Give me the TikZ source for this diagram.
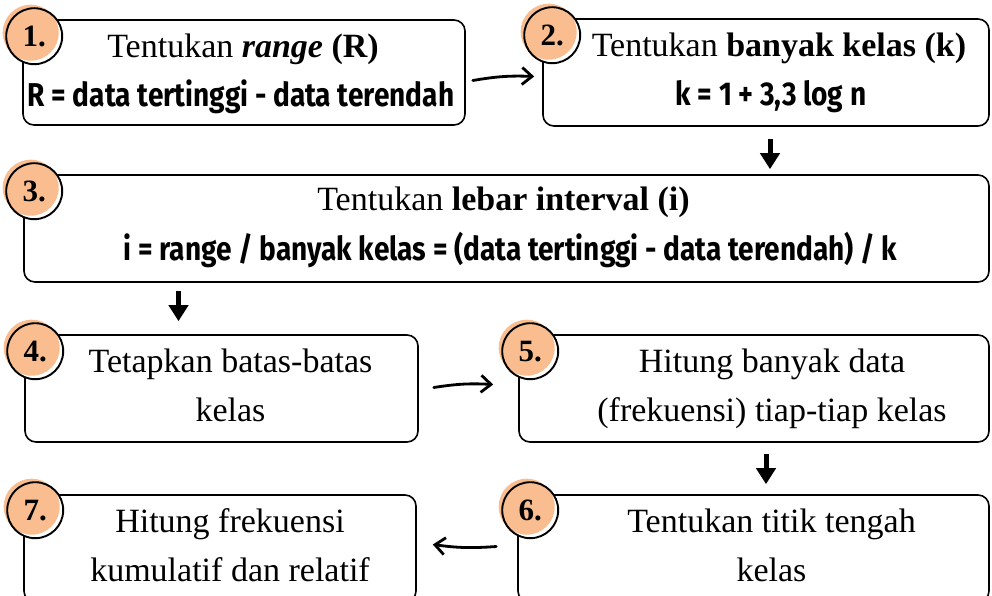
\documentclass[tikz,border=0pt]{standalone}
\usepackage{fontspec}
\setmainfont{Liberation Serif}
\newfontfamily\handfont{Fira Sans}[FakeStretch=0.85]
\usetikzlibrary{arrows.meta,calc}

\definecolor{peach}{RGB}{249,189,143}

\tikzset{
  box/.style={draw=black,line width=1.6pt,rounded corners=11pt,fill=white},
  txt/.style={anchor=base,inner sep=0pt,font=\fontsize{34}{49}\selectfont},
  formula/.style={anchor=base,inner sep=0pt,font=\handfont\bfseries\fontsize{33}{33}\selectfont},
  num/.style={circle,minimum size=56pt,inner sep=0pt,line width=1.9pt,draw=black,
    preaction={fill=white},
    preaction={fill=peach,transform canvas={shift={(-3.5pt,3.5pt)}}},
    font=\fontsize{31}{31}\selectfont\bfseries},
  harrow/.style={line width=2.8pt,line cap=round,-{Straight Barb[length=10pt,width=17pt]}},
  darrow/.style={line width=5pt,-{Triangle[length=16pt,width=19pt]}}
}

\begin{document}
\begin{tikzpicture}[x=1pt,y=-1pt]
\useasboundingbox (0,0) rectangle (992,596);
\clip (0,0) rectangle (992,596);
\fill[white] (0,0) rectangle (992,596);

\node[box,minimum width=442pt,minimum height=105pt] (b1) at (244,72.5) {};
\node[box,minimum width=446pt,minimum height=107pt] (b2) at (766,72.5) {};
\node[box,minimum width=965pt,minimum height=107pt] (b3) at (506.5,228.5) {};
\node[box,minimum width=393pt,minimum height=107pt] (b4) at (221.5,388.5) {};
\node[box,minimum width=470pt,minimum height=107pt] (b5) at (754,388.5) {};
\node[box,minimum width=471pt,minimum height=107pt] (b6) at (753.5,548.5) {};
\node[box,minimum width=392pt,minimum height=107pt] (b7) at (220,548.5) {};

\node[txt] (t1) at ($(b1.north)+(-1,38)$) {Tentukan \textbf{\textit{range}} \textbf{(R)}};
\node[formula] (f1) at ($(b1.north)+(-3,87)$) {R = data tertinggi - data terendah};

\node[txt] (t2) at ($(b2.north)+(13,38)$) {Tentukan \textbf{banyak kelas (k)}};
\node[formula] (f2) at ($(b2.north)+(5,87)$) {k = 1 + 3,3 log n};

\node[txt] (t3) at ($(b3.north)+(-3,36)$) {Tentukan \textbf{lebar interval (i)}};
\node[formula] (f3) at ($(b3.north)+(4,86)$) {i = range / banyak kelas = (data tertinggi - data terendah) / k};

\node[txt] (t4a) at ($(b4.north)+(9,38)$) {Tetapkan batas-batas};
\node[txt] (t4b) at ($(b4.north)+(9,87)$) {kelas};

\node[txt] (t5a) at ($(b5.north)+(18,38)$) {Hitung banyak data};
\node[txt] (t5b) at ($(b5.north)+(18,87)$) {(frekuensi) tiap-tiap kelas};

\node[txt] (t6a) at ($(b6.north)+(18,38)$) {Tentukan titik tengah};
\node[txt] (t6b) at ($(b6.north)+(18,87)$) {kelas};

\node[txt] (t7a) at ($(b7.north)+(10,38)$) {Hitung frekuensi};
\node[txt] (t7b) at ($(b7.north)+(10,87)$) {kumulatif dan relatif};

\node[num] (n1) at ($(b1.north west)+(12,17)$) {1.};
\node[num] (n2) at ($(b2.north west)+(10,17)$) {2.};
\node[num] (n3) at ($(b3.north west)+(11,17)$) {3.};
\node[num] (n4) at ($(b4.north west)+(11,17)$) {4.};
\node[num] (n5) at ($(b5.north west)+(12,17)$) {5.};
\node[num] (n6) at ($(b6.north west)+(13,16)$) {6.};
\node[num] (n7) at ($(b7.north west)+(12,16)$) {7.};

\draw[harrow] ($(b1.east)+(7,8)$) to[bend left=6] ($(b2.west)+(-8,4)$);
\draw[darrow] ($(b2.south)+(4,12)$) -- ($(b2.south |- b3.north)+(4,-5)$);
\draw[darrow] ($(b4.north |- b3.south)+(-43,8)$) -- ($(b4.north)+(-43,-13)$);
\draw[harrow] ($(b4.east)+(15,-1)$) to[bend left=6] ($(b5.west)+(-25,-4)$);
\draw[darrow] ($(b5.south)+(12,11)$) -- ($(b6.north)+(12.5,-10)$);
\draw[harrow] ($(b6.west)+(-21,-2)$) to[bend left=6] ($(b7.east)+(16,-4)$);
\end{tikzpicture}
\end{document}
